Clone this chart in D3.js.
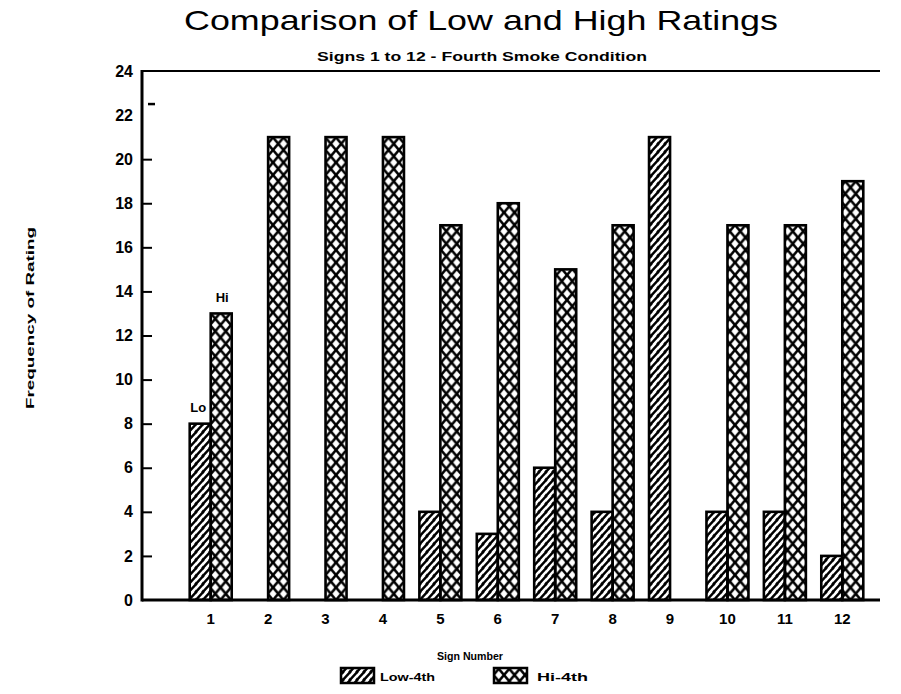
<!DOCTYPE html>
<html><head><meta charset="utf-8">
<script src="https://cdn.jsdelivr.net/npm/d3@7"></script>
<style>html,body{margin:0;padding:0;background:#fff}</style>
</head><body>
<svg id="chart" width="901" height="694"></svg>
<script>
const signs = [1,2,3,4,5,6,7,8,9,10,11,12];
const lowValues = [8,0,0,0,4,3,6,4,21,4,4,2];
const hiValues = [13,21,21,21,17,18,15,17,0,17,17,19];
const yTicks = [0,2,4,6,8,10,12,14,16,18,20,22,24];
const seriesNames = ["Low-4th","Hi-4th"];

const svg = d3.select("#chart");
const font = "'Liberation Sans', Arial, sans-serif";

const x = d3.scaleBand().domain(signs).range([182, 871]).padding(0);
const y = d3.scaleLinear().domain([0,24]).range([600, 71]);
const barW = 21;

const defs = svg.append("defs");
const hatch = defs.append("pattern").attr("id","hatch").attr("patternUnits","userSpaceOnUse")
  .attr("width",7).attr("height",8);
hatch.append("path").attr("d","M-1,9 L8,-1 M-4,5 L2,-2 M5,10 L9,5").attr("stroke","#000").attr("stroke-width",2.4);
const cross = defs.append("pattern").attr("id","cross").attr("patternUnits","userSpaceOnUse")
  .attr("width",10.5).attr("height",12.5);
cross.append("path").attr("d","M0,0 L10.5,12.5 M10.5,0 L0,12.5").attr("stroke","#000").attr("stroke-width",2.6);

// Title
svg.append("text").attr("x",481).attr("y",30).attr("text-anchor","middle")
  .attr("font-family",font).attr("font-size",28).attr("textLength",594).attr("lengthAdjust","spacingAndGlyphs")
  .text("Comparison of Low and High Ratings");
svg.append("text").attr("x",482).attr("y",61).attr("text-anchor","middle")
  .attr("font-family",font).attr("font-size",12).attr("font-weight","bold")
  .attr("textLength",330).attr("lengthAdjust","spacingAndGlyphs")
  .text("Signs 1 to 12 - Fourth Smoke Condition");

// bars
const g = svg.append("g");
signs.forEach((s,i)=>{
  const cx = x(s) + x.bandwidth()/2;
  if (lowValues[i] > 0) {
    g.append("rect").attr("x",cx-barW).attr("y",y(lowValues[i])).attr("width",barW)
      .attr("height",y(0)-y(lowValues[i])).attr("fill","url(#hatch)").attr("stroke","#000").attr("stroke-width",2.6);
  }
  if (hiValues[i] > 0) {
    g.append("rect").attr("x",cx).attr("y",y(hiValues[i])).attr("width",barW)
      .attr("height",y(0)-y(hiValues[i])).attr("fill","url(#cross)").attr("stroke","#000").attr("stroke-width",2.6);
  }
});

// Lo / Hi labels on sign 1
const c1 = x(signs[0]) + x.bandwidth()/2;
svg.append("text").attr("x",c1-barW/2-2).attr("y",y(lowValues[0])-12).attr("text-anchor","middle")
  .attr("font-family",font).attr("font-size",13).attr("font-weight","bold").text("Lo");
svg.append("text").attr("x",c1+barW/2+1).attr("y",y(hiValues[0])-11).attr("text-anchor","middle")
  .attr("font-family",font).attr("font-size",13).attr("font-weight","bold").text("Hi");

// axes lines
svg.append("line").attr("x1",142).attr("x2",880).attr("y1",y(0)).attr("y2",y(0)).attr("stroke","#000").attr("stroke-width",3);
svg.append("line").attr("x1",142).attr("x2",880).attr("y1",y(24)).attr("y2",y(24)).attr("stroke","#000").attr("stroke-width",2);
svg.append("line").attr("x1",142).attr("x2",142).attr("y1",y(24)-1).attr("y2",y(0)+1.5).attr("stroke","#000").attr("stroke-width",3);

// y axis via d3
const yAxis = d3.axisLeft(y).tickValues(yTicks).tickSize(0).tickPadding(9);
const ya = svg.append("g").attr("transform","translate(142,0)").call(yAxis);
ya.select(".domain").remove();
ya.selectAll("text").attr("font-family",font).attr("font-size",16).attr("font-weight","bold").attr("fill","#000");
// inward tick marks
ya.selectAll(".tick").filter(d=>d>0 && d<22).append("line").attr("x1",1).attr("x2",10).attr("stroke","#000").attr("stroke-width",2);
// small stray dash near top
svg.append("line").attr("x1",148).attr("x2",155).attr("y1",y(22.5)).attr("y2",y(22.5)).attr("stroke","#000").attr("stroke-width",2.5);

// x axis labels
const xAxis = d3.axisBottom(x).tickSize(0).tickPadding(13);
const xa = svg.append("g").attr("transform",`translate(0,${y(0)})`).call(xAxis);
xa.select(".domain").remove();
xa.selectAll("text").attr("font-family",font).attr("font-size",15).attr("font-weight","bold").attr("fill","#000");

// axis titles
svg.append("text").attr("transform","translate(34,318) rotate(-90)").attr("text-anchor","middle")
  .attr("font-family",font).attr("font-size",11).attr("font-weight","bold")
  .attr("textLength",182).attr("lengthAdjust","spacingAndGlyphs").text("Frequency of Rating");
svg.append("text").attr("x",470).attr("y",660).attr("text-anchor","middle")
  .attr("font-family",font).attr("font-size",11).attr("font-weight","bold")
  .attr("textLength",66).attr("lengthAdjust","spacingAndGlyphs").text("Sign Number");

// legend
const legend = [{name:seriesNames[0],fill:"url(#hatch)",bx:341,tx:380,tw:55},{name:seriesNames[1],fill:"url(#cross)",bx:494,tx:537,tw:51}];
legend.forEach(l=>{
  svg.append("rect").attr("x",l.bx).attr("y",668).attr("width",33).attr("height",15)
    .attr("fill",l.fill).attr("stroke","#000").attr("stroke-width",2.5);
  svg.append("text").attr("x",l.tx).attr("y",681).attr("font-family",font).attr("font-size",11)
    .attr("font-weight","bold").attr("textLength",l.tw).attr("lengthAdjust","spacingAndGlyphs").text(l.name);
});
</script>
</body></html>
